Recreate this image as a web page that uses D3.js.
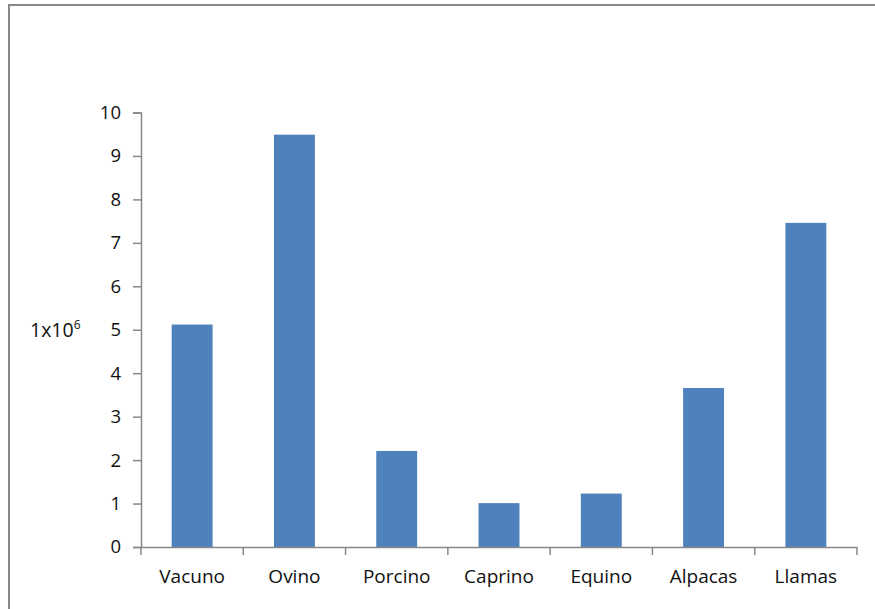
<!DOCTYPE html>
<html><head><meta charset="utf-8">
<script src="https://cdn.jsdelivr.net/npm/d3@7"></script>
<style>body{margin:0;background:#fff}svg{display:block}text{font-family:"Open Sans",sans-serif}</style>
</head><body>
<script>
const categories = ["Vacuno","Ovino","Porcino","Caprino","Equino","Alpacas","Llamas"];
const values = [5.12, 9.49, 2.21, 1.01, 1.23, 3.66, 7.46];
const yTicks = [0,1,2,3,4,5,6,7,8,9,10];
const yLabel = "1x10";
const yLabelSup = "6";

const W = 875, H = 609;
const FONT = "'Open Sans',sans-serif";
const svg = d3.select("body").append("svg").attr("width", W).attr("height", H);

// outer frame
svg.append("path").attr("d", `M9,${H} V5 H${W}`).attr("fill","none").attr("stroke","#888").attr("stroke-width",2);

const x0 = 141, x1 = 857, y0 = 547, y1 = 112.5;
const x = d3.scaleBand().domain(categories).range([x0, x1]).paddingInner(0.6).paddingOuter(0.3);
const y = d3.scaleLinear().domain([0, 10]).range([y0, y1]);

svg.selectAll("rect.bar").data(categories).join("rect").attr("class","bar")
  .attr("x", d => x(d)).attr("width", x.bandwidth())
  .attr("y", (d,i) => y(values[i])).attr("height", (d,i) => y0 - y(values[i]))
  .attr("fill", "#4F81BD");

// y axis
const yAxis = svg.append("g").attr("transform", `translate(${x0},0)`)
  .call(d3.axisLeft(y).tickValues(yTicks).tickSize(8).tickPadding(12).tickFormat(d3.format("d")));
yAxis.select(".domain").attr("stroke","#888").attr("stroke-width",1.5);
yAxis.selectAll(".tick line").attr("stroke","#888").attr("stroke-width",1.5);
yAxis.selectAll(".tick text").attr("font-size",18.5).attr("fill","#111").style("font-family",FONT);

// x axis
const step = (x1 - x0) / categories.length;
const xAxis = svg.append("g").attr("transform", `translate(0,${y0})`)
  .call(d3.axisBottom(x).tickSize(0).tickPadding(23));
xAxis.select(".domain").attr("stroke","#888").attr("stroke-width",1.5);
xAxis.selectAll(".tick text").attr("font-size",19).attr("fill","#111").style("font-family",FONT);
// boundary ticks
const bounds = d3.range(categories.length + 1);
xAxis.selectAll("line.bt").data(bounds).join("line").attr("class","bt")
  .attr("x1", i => x0 + i*step).attr("x2", i => x0 + i*step)
  .attr("y1", 0).attr("y2", 8).attr("stroke","#888").attr("stroke-width",1.5);

// y label
const t = svg.append("text").attr("x", 30).attr("y", 337).attr("font-size",19.5).attr("fill","#111").style("font-family",FONT);
t.append("tspan").text(yLabel);
t.append("tspan").text(yLabelSup).attr("font-size",12).attr("dy",-8);
</script>
</body></html>
